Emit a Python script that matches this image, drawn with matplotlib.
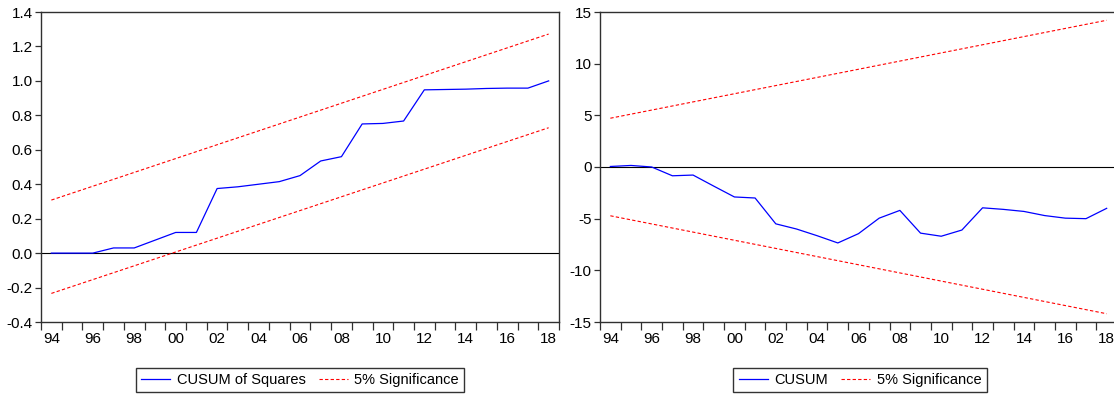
import matplotlib
matplotlib.use('Agg')
import matplotlib.pyplot as plt
import numpy as np

plt.rcParams['font.family'] = ['Liberation Sans', 'DejaVu Sans']
plt.rcParams['font.size'] = 11

# data
years = list(range(1994, 2019))
cusumsq = [0.0, 0.0, 0.0, 0.03, 0.03, 0.075, 0.12, 0.12, 0.375, 0.385,
           0.40, 0.415, 0.45, 0.535, 0.56, 0.75, 0.753, 0.767, 0.948, 0.95,
           0.952, 0.956, 0.958, 0.958, 1.0]
cusumsq_upper = [0.308, 1.272]   # at 1994 and 2018
cusumsq_lower = [-0.234, 0.728]
cusum = [0.05, 0.15, 0.0, -0.85, -0.78, -1.85, -2.9, -3.0, -5.5, -6.0,
         -6.65, -7.35, -6.45, -4.95, -4.2, -6.4, -6.7, -6.1, -3.95, -4.1,
         -4.3, -4.7, -4.95, -5.0, -4.0]
cusum_upper = [4.72, 14.2]
cusum_lower = [-4.72, -14.2]
ends = [years[0], years[-1]]

W, H = 1114, 394
fig = plt.figure(figsize=(W / 100, H / 100), dpi=100)

blue = '#0000ff'
red = '#ff0000'
spine_col = '#303030'


def style_axes(ax, ylim, yticks, ylabels):
    ax.set_xlim(years[0] - 0.5, years[-1] + 0.5)
    ax.set_ylim(*ylim)
    ax.set_yticks(yticks)
    ax.set_yticklabels(ylabels)
    # tick marks at year boundaries, labels centred on even years
    ax.set_xticks(np.arange(years[0] - 0.5, years[-1] + 1, 1.0))
    ax.set_xticklabels([])
    ax.set_xticks([y for y in years if y % 2 == 0], minor=True)
    ax.set_xticklabels([f'{y % 100:02d}' for y in years if y % 2 == 0],
                       minor=True)
    ax.tick_params(axis='x', which='major', direction='out', length=6,
                   width=0.9, color=spine_col)
    ax.tick_params(axis='x', which='minor', length=0, pad=7)
    ax.tick_params(axis='y', direction='out', length=4, width=0.9,
                   color=spine_col, pad=2)
    for s in ax.spines.values():
        s.set_color(spine_col)
        s.set_linewidth(1.0)
    ax.axhline(0, color='black', lw=0.8, zorder=1)


def add_legend(handles, xc):
    leg = fig.legend(handles=handles, loc='center',
                     bbox_to_anchor=(xc / W, 1 - 380 / H), ncol=2,
                     frameon=True, fancybox=False, edgecolor='black',
                     fontsize=10.5, handlelength=2.0, handletextpad=0.45,
                     columnspacing=0.9, borderpad=0.35)
    leg.get_frame().set_linewidth(1.0)


# left: CUSUM of squares
ax1 = fig.add_axes([41 / W, 1 - 322 / H, 518 / W, 310 / H])
l1, = ax1.plot(years, cusumsq, color=blue, lw=0.9, label='CUSUM of Squares')
l2, = ax1.plot(ends, cusumsq_upper, color=red, lw=0.8, dashes=(3, 2),
               label='5% Significance')
ax1.plot(ends, cusumsq_lower, color=red, lw=0.8, dashes=(3, 2))
yt1 = np.round(np.arange(-0.4, 1.41, 0.2), 1)
style_axes(ax1, (-0.4, 1.4), yt1, [f'{v:.1f}' for v in yt1])
add_legend([l1, l2], 300)

# right: CUSUM
ax2 = fig.add_axes([600 / W, 1 - 322 / H, 517 / W, 310 / H])
r1, = ax2.plot(years, cusum, color=blue, lw=0.9, label='CUSUM')
r2, = ax2.plot(ends, cusum_upper, color=red, lw=0.8, dashes=(3, 2),
               label='5% Significance')
ax2.plot(ends, cusum_lower, color=red, lw=0.8, dashes=(3, 2))
yt2 = np.arange(-15, 16, 5)
style_axes(ax2, (-15, 15), yt2, [str(v) for v in yt2])
add_legend([r1, r2], 860)

fig.savefig('out.png', dpi=100)
